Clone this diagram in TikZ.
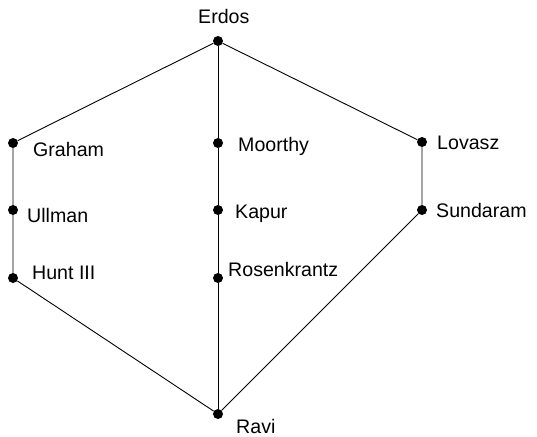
\documentclass[tikz,border=0pt]{standalone}
\usepackage{fontspec}
\setmainfont{Liberation Sans}
\begin{document}
\begin{tikzpicture}[x=1pt,y=-1pt,
  vertex/.style={circle,fill=black,inner sep=0pt,minimum size=10pt},
  tag/.style={anchor=base west,inner sep=0pt,font=\fontsize{19.6}{23}\selectfont},
  edge/.style={line width=0.9pt}]
\useasboundingbox (0,0) rectangle (537,436);
% vertices
\node[vertex] (erdos) at (218,41) {};
\node[vertex] (graham) at (13,143) {};
\node[vertex] (ullman) at (13,210) {};
\node[vertex] (hunt) at (13,278) {};
\node[vertex] (moorthy) at (218,143) {};
\node[vertex] (kapur) at (218,210) {};
\node[vertex] (rosen) at (218,278) {};
\node[vertex] (lovasz) at (422,142) {};
\node[vertex] (sundaram) at (422,210) {};
\node[vertex] (ravi) at (218,414) {};
% labels
\node[tag] (lerdos) at (198,24) {Erdos};
\node[tag] (lgraham) at (33,156) {Graham};
\node[tag] (lullman) at (27,222) {Ullman};
\node[tag] (lhunt) at (32,279) {Hunt III};
\node[tag] (lmoorthy) at (238,151) {Moorthy};
\node[tag] (lkapur) at (235,218) {Kapur};
\node[tag] (lrosen) at (228,276) {Rosenkrantz};
\node[tag] (llovasz) at (437,149) {Lovasz};
\node[tag] (lsundaram) at (436,217) {Sundaram};
\node[tag] (lravi) at (236,433) {Ravi};
% edges
\draw[edge] (erdos) -- (graham) -- (ullman) -- (hunt) -- (ravi);
\draw[edge] (erdos) -- (moorthy) -- (kapur) -- (rosen) -- (ravi);
\draw[edge] (erdos) -- (lovasz) -- (sundaram) -- (ravi);
\end{tikzpicture}
\end{document}
